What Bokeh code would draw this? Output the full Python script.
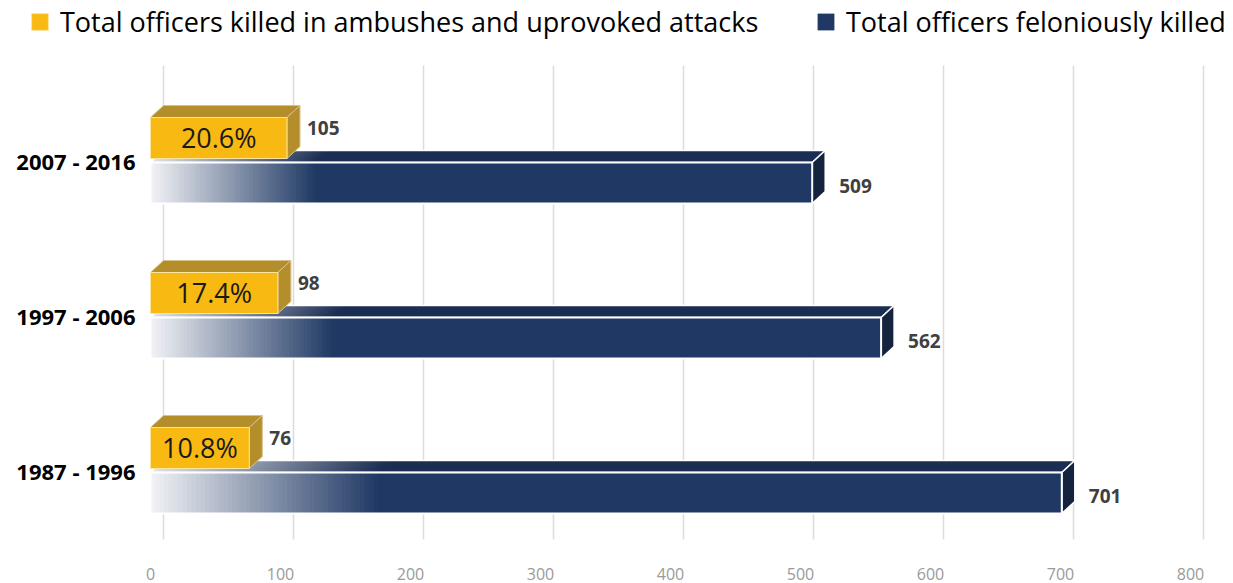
import numpy as np
from bokeh.plotting import figure
from bokeh.models import Range1d, FixedTicker, Legend, LegendItem
from bokeh.core.properties import value
from bokeh.embed import file_html
from bokeh.resources import INLINE

# ---------------- data ----------------
periods = ["2007 - 2016", "1997 - 2006", "1987 - 1996"]
ambush_killed = [105, 98, 76]
felonious_killed = [509, 562, 701]
x_ticks = [0, 100, 200, 300, 400, 500, 600, 700, 800]
legend_labels = ["Total officers killed in ambushes and uprovoked attacks",
                 "Total officers feloniously killed"]

# ---------------- layout ----------------
W, H = 1233, 583
left_px, bottom_px = 0, 44
sx_scale, sy_scale = 1.3, 155.0        # px per data unit
zero_px, row0_px = 150, 470
frame_w, frame_h = W - left_px, H - bottom_px
x_start = -(zero_px - left_px) / sx_scale
x_end = x_start + frame_w / sx_scale
y_start = -(frame_h - row0_px) / sy_scale
y_end = y_start + frame_h / sy_scale

def DX(px): return px / sx_scale
def DY(px): return px / sy_scale

ddx, ddy = DX(13), DY(12)               # 3-D depth offset
NAVY, NAVY_TOP, NAVY_SIDE = "#203964", "#1a2d52", "#14243f"
GOLD, GOLD_DARK = "#f8b912", "#b58e2c"
FONT = value("Open Sans")

def mix(c1, c2, t):
    a = [int(c1[i:i + 2], 16) for i in (1, 3, 5)]
    b = [int(c2[i:i + 2], 16) for i in (1, 3, 5)]
    return "#%02x%02x%02x" % tuple(int(round(a[k] + (b[k] - a[k]) * t)) for k in range(3))

p = figure(width=W, height=H, output_backend="svg", toolbar_location=None,
           x_range=Range1d(x_start, x_end), y_range=Range1d(y_start, y_end),
           min_border_left=left_px, min_border_right=0, min_border_top=0,
           min_border_bottom=bottom_px, outline_line_color=None,
           background_fill_color="white", border_fill_color="white")
p.xgrid.visible = False
p.ygrid.visible = False
p.yaxis.visible = False

centers = [len(periods) - 1 - i for i in range(len(periods))]

# ---------------- back-plane gridlines ----------------
g_top, g_bot = y_start + DY(frame_h - 65), y_start + DY(frame_h - 540)
p.segment(x0=[t + ddx for t in x_ticks], y0=[g_bot] * len(x_ticks),
          x1=[t + ddx for t in x_ticks], y1=[g_top] * len(x_ticks),
          line_color="#dcdcdc", line_width=1.5)
p.segment(x0=[t + ddx for t in x_ticks], y0=[g_bot] * len(x_ticks),
          x1=[t - DX(2) for t in x_ticks], y1=[g_bot - DY(13)] * len(x_ticks),
          line_color="#dcdcdc", line_width=1.5)

# ---------------- navy bars ----------------
N, FRAC, OV = 50, 0.25, 1.5
for c, v in zip(centers, felonious_killed):
    fb, ft = c - DY(43), c - DY(2)
    g_end = v * FRAC
    edges = [g_end * k / N for k in range(N + 1)]
    # top face (gradient + solid)
    xs, ys, cols = [], [], []
    for k in range(N):
        a, b = edges[k], edges[k + 1] + OV
        xs.append([a, b, b + ddx, a + ddx]); ys.append([ft, ft, ft + ddy, ft + ddy])
        cols.append(mix("#dfe3ea", NAVY_TOP, (k + 0.5) / N))
    xs.append([g_end, v, v + ddx, g_end + ddx]); ys.append([ft, ft, ft + ddy, ft + ddy])
    cols.append(NAVY_TOP)
    p.patches(xs=xs, ys=ys, fill_color=cols, line_color=None)
    p.patch(x=[0, v, v + ddx, ddx], y=[ft, ft, ft + ddy, ft + ddy],
            fill_color=None, line_color="white", line_width=1.5)
    # side face
    p.patch(x=[v, v + ddx, v + ddx, v], y=[fb, fb + ddy, ft + ddy, ft],
            fill_color=NAVY_SIDE, line_color="white", line_width=1.5)
    # front face gradient
    p.quad(left=edges[:-1], right=[e + OV for e in edges[1:]], bottom=fb, top=ft,
           fill_color=[mix("#f2f3f6", NAVY, (k + 0.5) / N) for k in range(N)], line_color=None)
    navy_r = p.quad(left=[g_end], right=[v], bottom=[fb], top=[ft], fill_color=NAVY, line_color=None)
    p.quad(left=[0], right=[v], bottom=[fb], top=[ft], fill_color=None,
           line_color="white", line_width=2)

# ---------------- gold bars ----------------
for c, a_val, f_val in zip(centers, ambush_killed, felonious_killed):
    yb, yt = c + DY(2), c + DY(43)
    p.patch(x=[0, a_val, a_val + ddx, ddx], y=[yt, yt, yt + ddy, yt + ddy],
            fill_color=GOLD_DARK, line_color="#d9c08a", line_width=1)
    p.patch(x=[a_val, a_val + ddx, a_val + ddx, a_val], y=[yb, yb + ddy, yt + ddy, yt],
            fill_color=GOLD_DARK, line_color="#d9c08a", line_width=1)
    gold_r = p.quad(left=[0], right=[a_val], bottom=[yb], top=[yt], fill_color=GOLD,
                    line_color="#fbe3a0", line_width=1)

# ---------------- labels ----------------
pct = ["%.1f%%" % (a / f * 100) for a, f in zip(ambush_killed, felonious_killed)]
p.text(x=[a / 2 for a in ambush_killed], y=[c + DY(23) for c in centers], text=pct,
       text_font=FONT, text_font_size="27px", text_color="#1a1a1a",
       text_align="center", text_baseline="middle")
p.text(x=[a + DX(20) for a in ambush_killed], y=[c + DY(33) for c in centers],
       text=[str(a) for a in ambush_killed], text_font=FONT, text_font_size="19px",
       text_font_style="bold", text_color="#404040", text_baseline="middle")
p.text(x=[f + DX(27) for f in felonious_killed], y=[c - DY(25) for c in centers],
       text=[str(f) for f in felonious_killed], text_font=FONT, text_font_size="19px",
       text_font_style="bold", text_color="#404040", text_baseline="middle")
p.text(x=[DX(-15)] * len(periods), y=centers, text=periods, text_font=FONT,
       text_font_size="22px", text_font_style="bold", text_color="black",
       text_align="right", text_baseline="middle")

# ---------------- x axis ----------------
p.xaxis.ticker = FixedTicker(ticks=x_ticks)
p.xaxis.axis_line_color = None
p.xaxis.major_tick_line_color = None
p.xaxis.minor_tick_line_color = None
p.xaxis.major_label_standoff = 22
p.xaxis.major_label_text_color = "#9a9a9a"
p.xaxis.major_label_text_font = "Open Sans"
p.xaxis.major_label_text_font_size = "16px"

# ---------------- legends ----------------
for lbl, r, gx in [(legend_labels[0], gold_r, 29), (legend_labels[1], navy_r, 815)]:
    leg = Legend(items=[LegendItem(label=lbl, renderers=[r])],
                 location=(gx - left_px, frame_h - 40),
                 orientation="horizontal", padding=0, margin=0, border_line_color=None,
                 background_fill_alpha=0, glyph_width=21, glyph_height=21,
                 label_standoff=10, label_text_font="Open Sans",
                 label_text_font_size="27px", label_text_color="black")
    p.add_layout(leg)

open("out.html", "w").write(file_html(p, INLINE))
